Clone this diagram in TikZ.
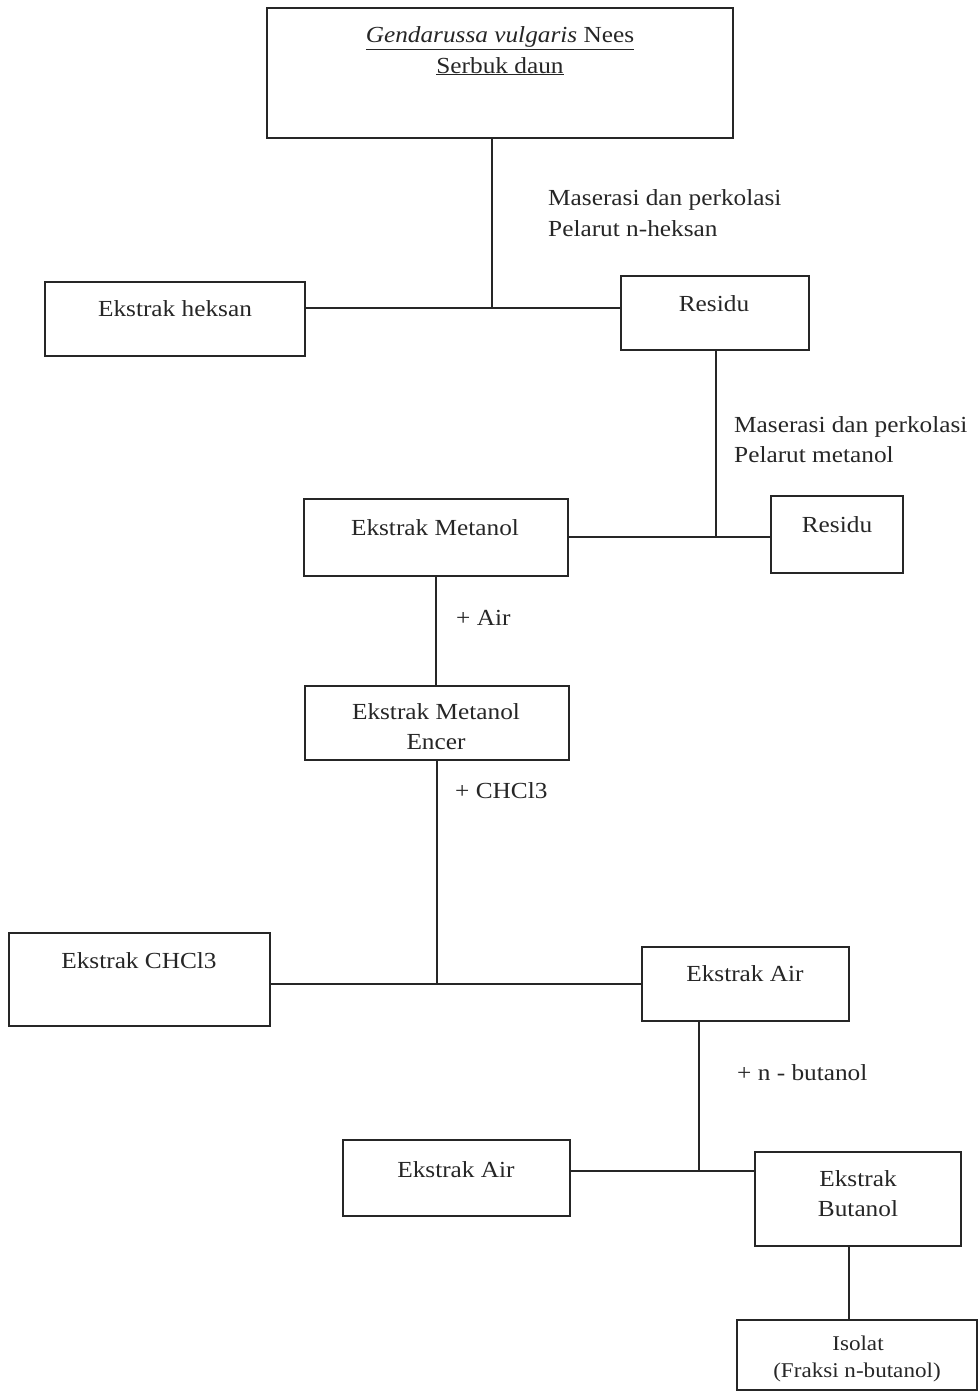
\documentclass[tikz,border=0pt]{standalone}
\usepackage{fontspec}
\setmainfont[FakeStretch=1.1]{Liberation Serif}
\begin{document}
\begin{tikzpicture}[x=1pt,y=-1pt,
  box/.style={draw=black!85, line width=1.1pt, rectangle, inner sep=0pt},
  conn/.style={draw=black!85, line width=1.1pt},
  txt/.style={font=\fontsize{23}{27}\selectfont, text=black!85, inner sep=0pt, anchor=base},
  lbl/.style={font=\fontsize{23}{27}\selectfont, text=black!85, inner sep=0pt, anchor=base west},
  small/.style={font=\fontsize{21}{25}\selectfont, text=black!85, inner sep=0pt, anchor=base}]
\useasboundingbox (0,0) rectangle (979,1393);

% boxes
\node[box, minimum width=466pt, minimum height=130pt] (top)  at (500,73) {};
\node[box, minimum width=260pt, minimum height=74pt]  (hek)  at (175,319) {};
\node[box, minimum width=188pt, minimum height=74pt]  (res1) at (715,313) {};
\node[box, minimum width=264pt, minimum height=77pt]  (met)  at (436,537.5) {};
\node[box, minimum width=132pt, minimum height=77pt]  (res2) at (837,534.5) {};
\node[box, minimum width=264pt, minimum height=74pt]  (enc)  at (437,723) {};
\node[box, minimum width=261pt, minimum height=93pt]  (chcl) at (139.5,979.5) {};
\node[box, minimum width=207pt, minimum height=74pt]  (air1) at (745.5,984) {};
\node[box, minimum width=227pt, minimum height=76pt]  (air2) at (456.5,1178) {};
\node[box, minimum width=206pt, minimum height=94pt]  (but)  at (858,1199) {};
\node[box, minimum width=240pt, minimum height=70pt]  (iso)  at (857,1355) {};

% box texts
\node[txt] (t1a) at (500,42.5) {\underline{\textit{Gendarussa vulgaris} Nees}};
\node[txt] (t1b) at (500,73) {\underline{Serbuk daun}};
\node[txt] (thek) at (175,316) {Ekstrak heksan};
\node[txt] (tres1) at (714,311) {Residu};
\node[txt] (tmet) at (435,535) {Ekstrak Metanol};
\node[txt] (tres2) at (837,532) {Residu};
\node[txt] (tenc1) at (436,719) {Ekstrak Metanol};
\node[txt] (tenc2) at (436,749) {Encer};
\node[txt] (tchcl) at (139,968) {Ekstrak CHCl3};
\node[txt] (tair1) at (745,981) {Ekstrak Air};
\node[txt] (tair2) at (456,1177) {Ekstrak Air};
\node[txt] (tbut1) at (858,1186) {Ekstrak};
\node[txt] (tbut2) at (858,1216) {Butanol};
\node[small] (tiso1) at (858,1350) {Isolat};
\node[small] (tiso2) at (857,1377) {(Fraksi n-butanol)};

% junctions
\coordinate (j1) at (492,308);
\coordinate (j2) at (716,537);
\coordinate (j3) at (437,984);
\coordinate (j4) at (699,1171);
\coordinate (v2) at (849,1280);

% connectors
\draw[conn] (top.south -| j1) -- (j1);
\draw[conn] (hek.east |- j1) -- (res1.west |- j1);
\draw[conn] (res1.south -| j2) -- (j2);
\draw[conn] (met.east |- j2) -- (res2.west |- j2);
\draw[conn] (met.south) -- (met.south |- enc.north);
\draw[conn] (enc.south -| j3) -- (j3);
\draw[conn] (chcl.east |- j3) -- (air1.west |- j3);
\draw[conn] (air1.south -| j4) -- (j4);
\draw[conn] (air2.east |- j4) -- (but.west |- j4);
\draw[conn] (but.south -| v2) -- (iso.north -| v2);

% connector labels
\node[lbl] (l1a) at (548,205) {Maserasi dan perkolasi};
\node[lbl] (l1b) at (548,236) {Pelarut n-heksan};
\node[lbl] (l2a) at (734,432) {Maserasi dan perkolasi};
\node[lbl] (l2b) at (734,462) {Pelarut metanol};
\node[lbl] (l3) at (456,625) {+ Air};
\node[lbl] (l4) at (455,798) {+ CHCl3};
\node[lbl] (l5) at (737,1080) {+ n - butanol};
\end{tikzpicture}
\end{document}
